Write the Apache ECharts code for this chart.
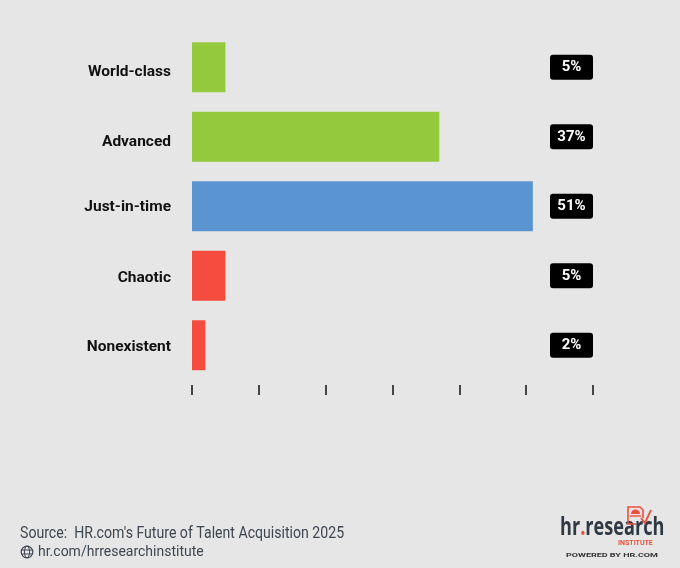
<!DOCTYPE html>
<html><head><meta charset="utf-8">
<style>html,body{margin:0;padding:0;background:#e6e6e6}#c{width:680px;height:568px}</style>
<script src="https://cdn.jsdelivr.net/npm/echarts@6/dist/echarts.min.js"></script></head>
<body><div id="c"></div>
<script>
const categories = ['World-class','Advanced','Just-in-time','Chaotic','Nonexistent'];
const values = [5,37,51,5,2];
const colors = ['#94c93d','#94c93d','#5b95d1','#f44c3f','#f44c3f'];
const valueLabels = ['5%','37%','51%','5%','2%'];
const sourceText = "Source:  HR.com's Future of Talent Acquisition 2025";
const siteText = 'hr.com/hrresearchinstitute';

const chart = echarts.init(document.getElementById('c'), null, {renderer:'canvas'});
const red = '#ee4f3f', dark = '#2f3944';
chart.setOption({
  animation:false,
  backgroundColor:'#e6e6e6',
  grid:{left:192,top:32.5,width:401,height:347.5},
  xAxis:{type:'value',min:0,max:60,interval:10,splitLine:{show:false},axisLine:{show:false},
    axisLabel:{show:false},axisTick:{show:true,length:10,lineStyle:{color:'#111',width:1.5}},offset:5},
  yAxis:[{type:'category',inverse:true,data:categories,axisLine:{show:false},axisTick:{show:false},
    axisLabel:{margin:21,fontFamily:'Roboto',fontWeight:'bold',fontSize:15.5,color:'#111',
      formatter:(v,i)=>`{r${i}|${v}}`,
      rich:{r0:{padding:[9,0,0,0]},r1:{padding:[11,0,0,0]},r2:{padding:[1,0,0,0]},r3:{padding:[4,0,0,0]},r4:{padding:[3,0,0,0]}}}},
   {type:'category',inverse:true,position:'right',data:valueLabels,axisLine:{show:false},axisTick:{show:false},
    axisLabel:{margin:-21.5,align:'center',verticalAlign:'middle',fontFamily:'Roboto',fontWeight:'bold',fontSize:15,color:'#fff',
      backgroundColor:'#000',borderRadius:3,width:43,height:25,lineHeight:25}}],
  series:[{type:'bar',data:values.map((v,i)=>({value:v,itemStyle:{color:colors[i]}})),barWidth:50,yAxisIndex:0}],
  graphic:[
    {type:'text',x:20,y:525,scaleX:0.83,style:{text:sourceText,font:'400 17px Roboto',fill:'#3f4650'}},
    {type:'text',x:38,y:545.5,style:{text:siteText,font:'400 14px Roboto',fill:'#3f4650'}},
    {type:'circle',shape:{cx:27,cy:552,r:5.8},style:{fill:'none',stroke:'#3f4650',lineWidth:1.2}},
    {type:'ellipse',shape:{cx:27,cy:552,rx:2.6,ry:5.8},style:{fill:'none',stroke:'#3f4650',lineWidth:1}},
    {type:'line',shape:{x1:21.2,y1:550,x2:32.8,y2:550},style:{stroke:'#3f4650',lineWidth:1}},
    {type:'line',shape:{x1:21.2,y1:554,x2:32.8,y2:554},style:{stroke:'#3f4650',lineWidth:1}},
    {type:'text',x:560,y:515,scaleX:0.725,style:{rich:{a:{font:'700 25px "Open Sans"',fill:dark},b:{font:'700 25px "Open Sans"',fill:red}},text:'{a|hr}{b|.}{a|research}'}},
    {type:'text',x:618,y:540,style:{text:'INSTITUTE',font:'700 7px Roboto',fill:red}},
    {type:'text',x:566,y:553,scaleX:1.8,style:{text:'POWERED BY HR.COM',font:'700 5px Roboto',fill:'#333'}},
    {type:'polyline',shape:{points:[[636,524],[628,524],[628,507],[640,507],[643,510],[643,518]]},style:{fill:'none',stroke:red,lineWidth:1.6}},
    {type:'polyline',shape:{points:[[641,518],[645,523],[651,510]]},style:{fill:'none',stroke:red,lineWidth:1.8}},
    {type:'line',shape:{x1:630,y1:516,x2:641,y2:516},style:{stroke:red,lineWidth:1.4}},
    {type:'sector',shape:{cx:635.5,cy:514,r:4.5,r0:0,startAngle:Math.PI,endAngle:2*Math.PI},style:{fill:red}}
  ]
});
</script></body></html>
